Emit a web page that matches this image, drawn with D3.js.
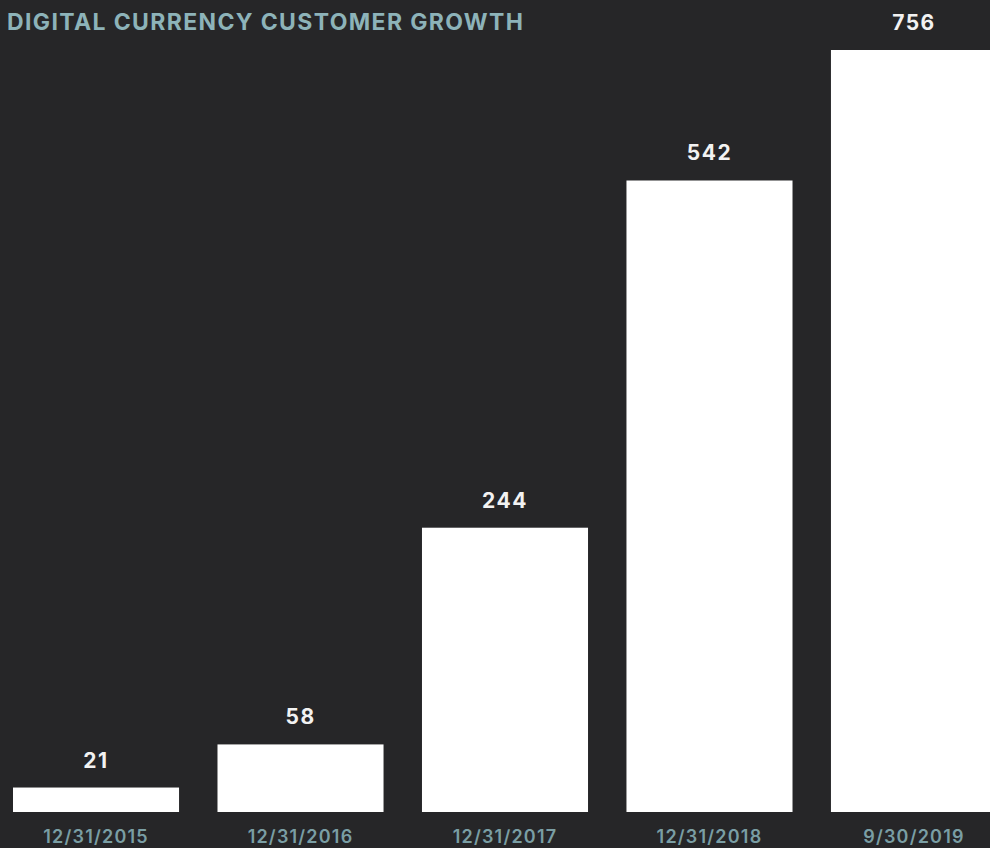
<!DOCTYPE html>
<html>
<head>
<meta charset="utf-8">
<script src="https://cdn.jsdelivr.net/npm/d3@7"></script>
<style>
  body { margin: 0; background: #262628; }
  svg { display: block; }
</style>
</head>
<body>
<div id="chart"></div>
<script>
// chart data
var categories = ['12/31/2015', '12/31/2016', '12/31/2017', '12/31/2018', '9/30/2019'];
var customers = [21, 58, 244, 542, 756];
var title = 'DIGITAL CURRENCY CUSTOMER GROWTH';

var width = 990, height = 848;

var svg = d3.select('#chart').append('svg')
    .attr('width', width)
    .attr('height', height);

svg.append('rect')
    .attr('width', width)
    .attr('height', height)
    .attr('fill', '#262628');

var x = d3.scaleBand()
    .domain(categories)
    .range([13, 997])
    .paddingInner(0.188)
    .paddingOuter(0);

// the last bar is cut off at the top of the plot in the original
var y = d3.scaleLinear()
    .domain([0, 654])
    .range([812, 50])
    .clamp(true);

svg.append('g').selectAll('rect').data(customers).enter()
    .append('rect')
    .attr('x', function (d, i) { return x(categories[i]); })
    .attr('y', function (d) { return y(d); })
    .attr('width', x.bandwidth())
    .attr('height', function (d) { return y(0) - y(d); })
    .attr('fill', '#ffffff');

svg.append('g').selectAll('text').data(customers).enter()
    .append('text')
    .attr('x', function (d, i) { return x(categories[i]) + x.bandwidth() / 2; })
    .attr('y', function (d) { return y(d) - 20; })
    .attr('text-anchor', 'middle')
    .attr('fill', '#f2f2f2')
    .style('font-family', 'Inter, Roboto, sans-serif')
    .style('font-weight', 700)
    .style('font-size', '21px')
    .style('letter-spacing', '1.5px')
    .text(function (d) { return d; });

var xAxis = svg.append('g')
    .attr('transform', 'translate(0,812)')
    .call(d3.axisBottom(x).tickSize(0).tickPadding(0));
xAxis.select('.domain').remove();
xAxis.selectAll('text')
    .attr('y', 31)
    .attr('dy', null)
    .attr('fill', '#7a9ea4')
    .style('font-family', 'Inter, Roboto, sans-serif')
    .style('font-weight', 600)
    .style('font-size', '18px')
    .style('letter-spacing', '1.2px');

svg.append('text')
    .attr('x', 7)
    .attr('y', 30)
    .attr('fill', '#8db3b9')
    .attr('textLength', 516)
    .attr('lengthAdjust', 'spacing')
    .style('font-family', 'Inter, Roboto, sans-serif')
    .style('font-weight', 700)
    .style('font-size', '23px')
    .text(title);
</script>
</body>
</html>
